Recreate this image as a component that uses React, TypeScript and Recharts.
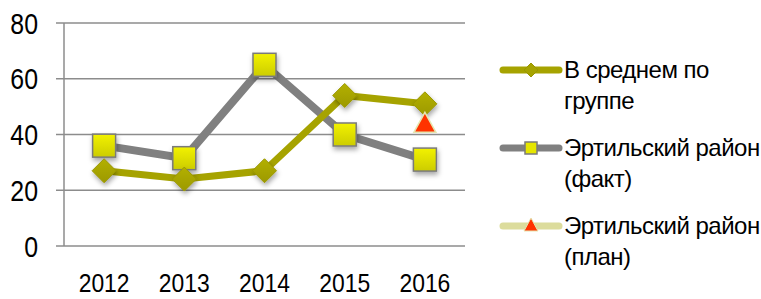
import { LineChart, Line, XAxis, YAxis, CartesianGrid } from "recharts";

const years = ["2012", "2013", "2014", "2015", "2016"];
const groupAvg = [27, 24, 27, 54, 51];
const districtFact = [36, 31.5, 65, 40, 31];
const districtPlan = [null, null, null, null, 44];
const yTicks = [0, 20, 40, 60, 80];
const boundaryTicks = [0, 1, 2, 3, 4, 5];

const seriesNames = {
	avg: "В среднем по группе",
	fact: "Эртильский район (факт)",
	plan: "Эртильский район (план)",
};

const data = years.map((year, i) => ({
	year,
	avg: groupAvg[i],
	fact: districtFact[i],
	plan: districtPlan[i],
}));

const OLIVE = "#a6a300";
const GREY = "#808080";
const FONT = "'Liberation Sans', Arial, sans-serif";

// the original uses a narrow font, so the tick labels are squeezed horizontally
const XTick = (props: any) => {
	const { x, y, payload } = props;
	return (
		<g transform={`translate(${x},${y}) scale(0.88,1)`}>
			<text x={0} y={0} dy="0.71em" textAnchor="middle" fontSize={26} fontFamily={FONT} fill="#000">
				{payload.value}
			</text>
		</g>
	);
};

const YTick = (props: any) => {
	const { x, y, payload } = props;
	return (
		<g transform={`translate(${x},${y}) scale(0.83,1)`}>
			<text x={0} y={0} dy="0.355em" textAnchor="end" fontSize={30} fontFamily={FONT} fill="#000">
				{payload.value}
			</text>
		</g>
	);
};

const Diamond = (props: any) => {
	const { cx, cy, index } = props;
	if (cx == null || cy == null) return <g key={index} />;
	const r = 12;
	return (
		<path
			key={index}
			d={`M${cx},${cy - r} L${cx + r},${cy} L${cx},${cy + r} L${cx - r},${cy} Z`}
			fill="url(#diamondFill)"
			stroke="#9a9700"
			strokeWidth={1}
			filter="url(#shadow)"
		/>
	);
};

const Square = (props: any) => {
	const { cx, cy, index } = props;
	if (cx == null || cy == null) return <g key={index} />;
	const s = 11.5;
	return (
		<rect
			key={index}
			x={cx - s}
			y={cy - s}
			width={s * 2}
			height={s * 2}
			fill="url(#squareFill)"
			stroke="#7a7a7a"
			strokeWidth={1.5}
			filter="url(#shadow)"
		/>
	);
};

const Triangle = (props: any) => {
	const { cx, cy, index } = props;
	if (cx == null || cy == null) return <g key={index} />;
	return (
		<path
			key={index}
			d={`M${cx},${cy - 11} L${cx + 11},${cy + 9} L${cx - 11},${cy + 9} Z`}
			fill="#ff3300"
			stroke="#e6e6b0"
			strokeWidth={1.5}
		/>
	);
};

const legendItems = [
	{ key: "avg", color: OLIVE, marker: "diamond", lines: ["В среднем по", "группе"] },
	{ key: "fact", color: GREY, marker: "square", lines: ["Эртильский район", "(факт)"] },
	{ key: "plan", color: "#dcdc9c", marker: "triangle", lines: ["Эртильский район", "(план)"] },
];

const ChartLegend = () => (
	<div
		style={{
			position: "absolute",
			left: 496,
			top: 54,
			width: 265,
			fontFamily: FONT,
			fontSize: 24,
			letterSpacing: -0.5,
			color: "#000",
		}}
	>
		{legendItems.map((item) => (
			<div key={item.key} title={(seriesNames as any)[item.key]} style={{ display: "flex", marginBottom: 16 }}>
				<svg width={68} height={32} style={{ flex: "none" }}>
					<line x1={7} y1={16} x2={63} y2={16} stroke={item.color} strokeWidth={7} strokeLinecap="round" />
					{item.marker === "diamond" && (
						<path d="M35,9 L42,16 L35,23 L28,16 Z" fill={OLIVE} stroke="#9a9700" />
					)}
					{item.marker === "square" && (
						<rect x={29} y={10} width={12} height={12} fill="#e6e600" stroke="#7a7a7a" strokeWidth={1.5} />
					)}
					{item.marker === "triangle" && (
						<path d="M35,8 L42,21 L28,21 Z" fill="#ff3300" stroke="#e6e6b0" />
					)}
				</svg>
				<div style={{ lineHeight: "31px", whiteSpace: "nowrap" }}>
					{item.lines.map((l) => (
						<div key={l}>{l}</div>
					))}
				</div>
			</div>
		))}
	</div>
);

const App = () => {
	return (
		<div style={{ position: "absolute", left: 0, top: 0, width: 761, height: 299, background: "#fff" }}>
			<LineChart
				width={761}
				height={299}
				data={data}
				margin={{ top: 23, right: 296, bottom: 0, left: 0 }}
			>
				<defs>
					<linearGradient id="squareFill" x1="0" y1="0" x2="0" y2="1">
						<stop offset="0%" stopColor="#f2f200" />
						<stop offset="100%" stopColor="#cccc00" />
					</linearGradient>
					<linearGradient id="diamondFill" x1="0" y1="0" x2="0" y2="1">
						<stop offset="0%" stopColor="#b3b000" />
						<stop offset="100%" stopColor="#9c9900" />
					</linearGradient>
					<filter id="shadow" x="-50%" y="-50%" width="200%" height="200%">
						<feDropShadow dx={1} dy={3} stdDeviation={2.5} floodColor="#000" floodOpacity={0.35} />
					</filter>
				</defs>
				<CartesianGrid vertical={false} stroke="#8c8c8c" strokeWidth={1.5} />
				<XAxis
					xAxisId="bounds"
					type="number"
					domain={[0, 5]}
					ticks={boundaryTicks}
					tick={false}
					height={0}
					tickSize={8}
					axisLine={{ stroke: "#8c8c8c", strokeWidth: 1.5 }}
					tickLine={{ stroke: "#8c8c8c", strokeWidth: 1.5 }}
				/>
				<XAxis
					dataKey="year"
					xAxisId="cat"
					scale="band"
					height={53}
					interval={0}
					axisLine={false}
					tickLine={false}
					tickSize={0}
					tickMargin={28}
					tick={XTick}
				/>
				<YAxis
					domain={[0, 80]}
					ticks={yTicks}
					width={64}
					tickSize={8}
					tickMargin={18}
					axisLine={{ stroke: "#8c8c8c", strokeWidth: 1.5 }}
					tickLine={{ stroke: "#8c8c8c", strokeWidth: 1.5 }}
					tick={YTick}
				/>
				<Line
					xAxisId="cat"
					dataKey="fact"
					name={seriesNames.fact}
					stroke={GREY}
					strokeWidth={8}
					dot={Square}
					activeDot={false}
					isAnimationActive={false}
				/>
				<Line
					xAxisId="cat"
					dataKey="avg"
					name={seriesNames.avg}
					stroke={OLIVE}
					strokeWidth={7}
					dot={Diamond}
					activeDot={false}
					isAnimationActive={false}
				/>
				<Line
					xAxisId="cat"
					dataKey="plan"
					name={seriesNames.plan}
					stroke="#dcdc9c"
					strokeWidth={7}
					dot={Triangle}
					activeDot={false}
					isAnimationActive={false}
				/>
			</LineChart>
			<ChartLegend />
		</div>
	);
};

export default App;
